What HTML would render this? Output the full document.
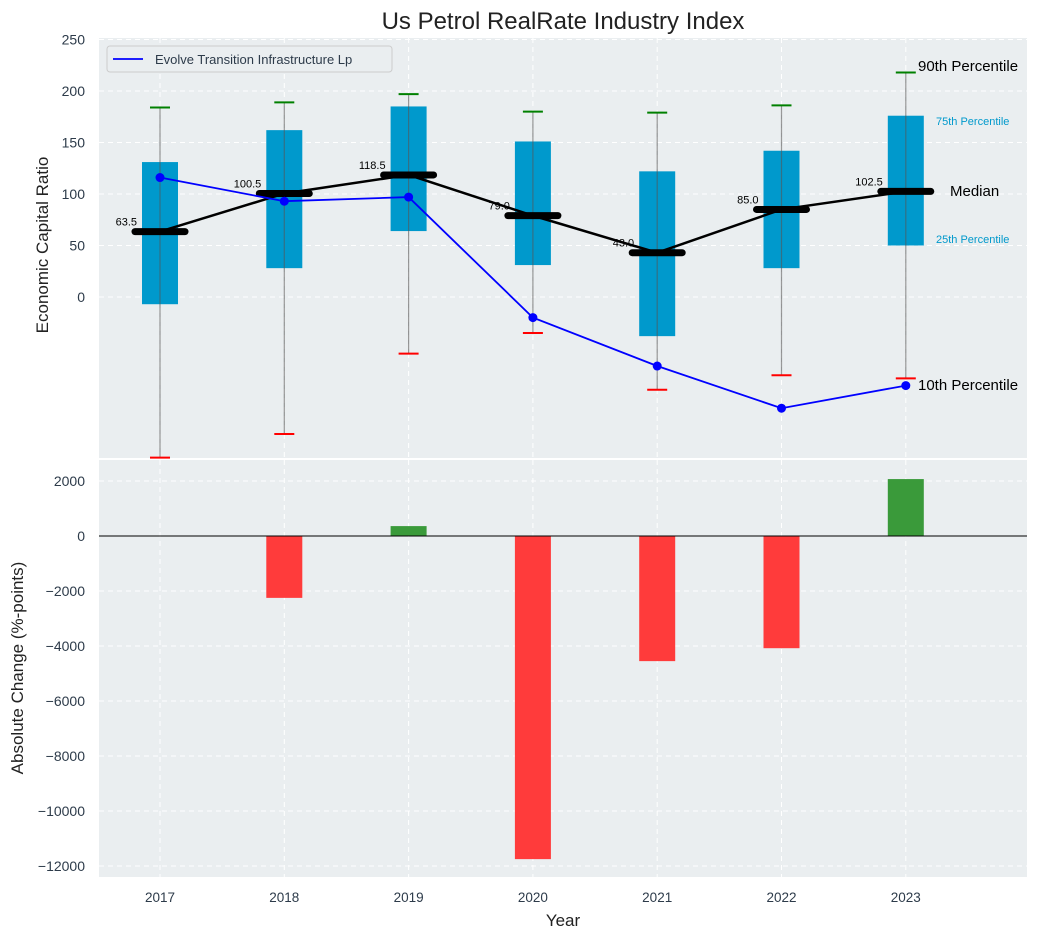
<!DOCTYPE html>
<html><head><meta charset="utf-8"><style>
body{margin:0;background:#fff;font-family:"Liberation Sans",sans-serif}
svg text{font-family:"Liberation Sans",sans-serif}
</style></head><body>
<svg id="c" width="1038" height="940" xmlns="http://www.w3.org/2000/svg"></svg>
<script>
const years=["2017","2018","2019","2020","2021","2022","2023"];
const q1=[-7,28,64,31,-38,28,50];
const q3=[131,162,185,151,122,142,176];
const whiskHigh=[184,189,197,180,179,186,218];
const whiskLow=[-156,-133,-55,-35,-90,-76,-79];
const medians=[63.5,100.5,118.5,79.0,43.0,85.0,102.5];
const company=[116,93,97,-20,-67,-108,-86];
const changes=[0,-2250,360,-11750,-4550,-4080,2070];
const topTicks=[0,50,100,150,200,250];
const botTicks=[2000,0,-2000,-4000,-6000,-8000,-10000,-12000];

const svg=document.getElementById('c');const NS='http://www.w3.org/2000/svg';
function el(t,a,txt){const e=document.createElementNS(NS,t);for(const k in a)e.setAttribute(k,a[k]);if(txt!==undefined)e.textContent=txt;svg.appendChild(e);return e;}
const fmt=v=>String(v).replace('-','\u2212');
const L=99,R=1027,T1=38,B1=458,T2=460,B2=877;
const xS=i=>160+i*124.3;
const yT=v=>297-v*1.03;
const yB=v=>536-v*0.0275;

let e;
e=el('rect',{x:L,y:T1,width:R-L,height:B1-T1,fill:'#eaeef0'});

e=el('rect',{x:L,y:T2,width:R-L,height:B2-T2,fill:'#eaeef0'});

years.forEach((y,i)=>{
  e=el('line',{x1:xS(i),x2:xS(i),y1:T1,y2:B1,stroke:'#fff','stroke-dasharray':'5,4','stroke-width':1});
  
  e=el('line',{x1:xS(i),x2:xS(i),y1:T2,y2:B2,stroke:'#fff','stroke-dasharray':'5,4','stroke-width':1});
  
  e=el('text',{x:xS(i),y:902,'text-anchor':'middle','font-size':13.5,fill:'#2d3b4a'},y);
  
});
topTicks.forEach(v=>{
  e=el('line',{x1:L,x2:R,y1:yT(v),y2:yT(v),stroke:'#fff','stroke-dasharray':'5,4'});
  
  e=el('text',{x:85,y:yT(v)+5,'text-anchor':'end','font-size':14,fill:'#2d3b4a'},fmt(v));
  
});
botTicks.forEach(v=>{
  e=el('line',{x1:L,x2:R,y1:yB(v),y2:yB(v),stroke:'#fff','stroke-dasharray':'5,4'});
  
  e=el('text',{x:85,y:yB(v)+5,'text-anchor':'end','font-size':14,fill:'#2d3b4a'},fmt(v));
  
});
years.forEach((y,i)=>{
  const x=xS(i);
  e=el('rect',{x:x-18,y:yT(q3[i]),width:36,height:yT(q1[i])-yT(q3[i]),fill:'#0099cc'});
  
  e=el('line',{x1:x,x2:x,y1:yT(whiskHigh[i]),y2:yT(whiskLow[i]),stroke:'#555','stroke-opacity':0.6,'stroke-width':1.2});
  
  e=el('line',{x1:x-10,x2:x+10,y1:yT(whiskHigh[i]),y2:yT(whiskHigh[i]),stroke:'green','stroke-width':2});
  
  e=el('line',{x1:x-10,x2:x+10,y1:yT(whiskLow[i]),y2:yT(whiskLow[i]),stroke:'red','stroke-width':2});
  
});
e=el('polyline',{points:medians.map((m,i)=>xS(i)+','+yT(m)).join(' '),fill:'none',stroke:'#000','stroke-width':2.5});

medians.forEach((m,i)=>{
  const x=xS(i);
  e=el('line',{x1:x-25,x2:x+25,y1:yT(m),y2:yT(m),stroke:'#000','stroke-width':7,'stroke-linecap':'round'});
  
  e=el('text',{x:x-23,y:yT(m)-6,'text-anchor':'end','font-size':11,fill:'#000'},m.toFixed(1));
  
});
e=el('polyline',{points:company.map((v,i)=>xS(i)+','+yT(v)).join(' '),fill:'none',stroke:'#0000ff','stroke-width':1.8});

company.forEach((v,i)=>{
  e=el('circle',{cx:xS(i),cy:yT(v),r:4.5,fill:'#0000ff'});
  
});
const ann=[["90th Percentile",918,71,15,'#000'],["75th Percentile",936,125,11,'#0099cc'],["Median",950,196,15,'#000'],["25th Percentile",936,243,11,'#0099cc'],["10th Percentile",918,390,15,'#000']];
ann.forEach(a=>{e=el('text',{x:a[1],y:a[2],'font-size':a[3],fill:a[4]},a[0]);
  });
e=el('rect',{x:107,y:46,width:285,height:26,rx:3,fill:'#eaeef0',stroke:'#ccc'});

e=el('line',{x1:113,x2:143,y1:59,y2:59,stroke:'#0000ff','stroke-width':1.8});

e=el('text',{x:155,y:64,'font-size':13,fill:'#2d3b4a'},'Evolve Transition Infrastructure Lp');

changes.forEach((v,i)=>{
  const y0=yB(0),y1=yB(v);
  e=el('rect',{x:xS(i)-18,y:Math.min(y0,y1),width:36,height:Math.abs(y1-y0),fill:v>=0?'#3a9a3a':'#ff3b3b'});
  
});
e=el('line',{x1:L,x2:R,y1:yB(0),y2:yB(0),stroke:'#000','stroke-width':1});

e=el('text',{x:563,y:29,'text-anchor':'middle','font-size':24,fill:'#222'},'Us Petrol RealRate Industry Index');

e=el('text',{x:563,y:926,'text-anchor':'middle','font-size':17,fill:'#222'},'Year');

e=el('text',{x:48,y:245,'text-anchor':'middle','font-size':17,fill:'#222',transform:'rotate(-90 48 245)'},'Economic Capital Ratio');

e=el('text',{x:23,y:668,'text-anchor':'middle','font-size':17,fill:'#222',transform:'rotate(-90 23 668)'},'Absolute Change (%-points)');

</script>
</body></html>
